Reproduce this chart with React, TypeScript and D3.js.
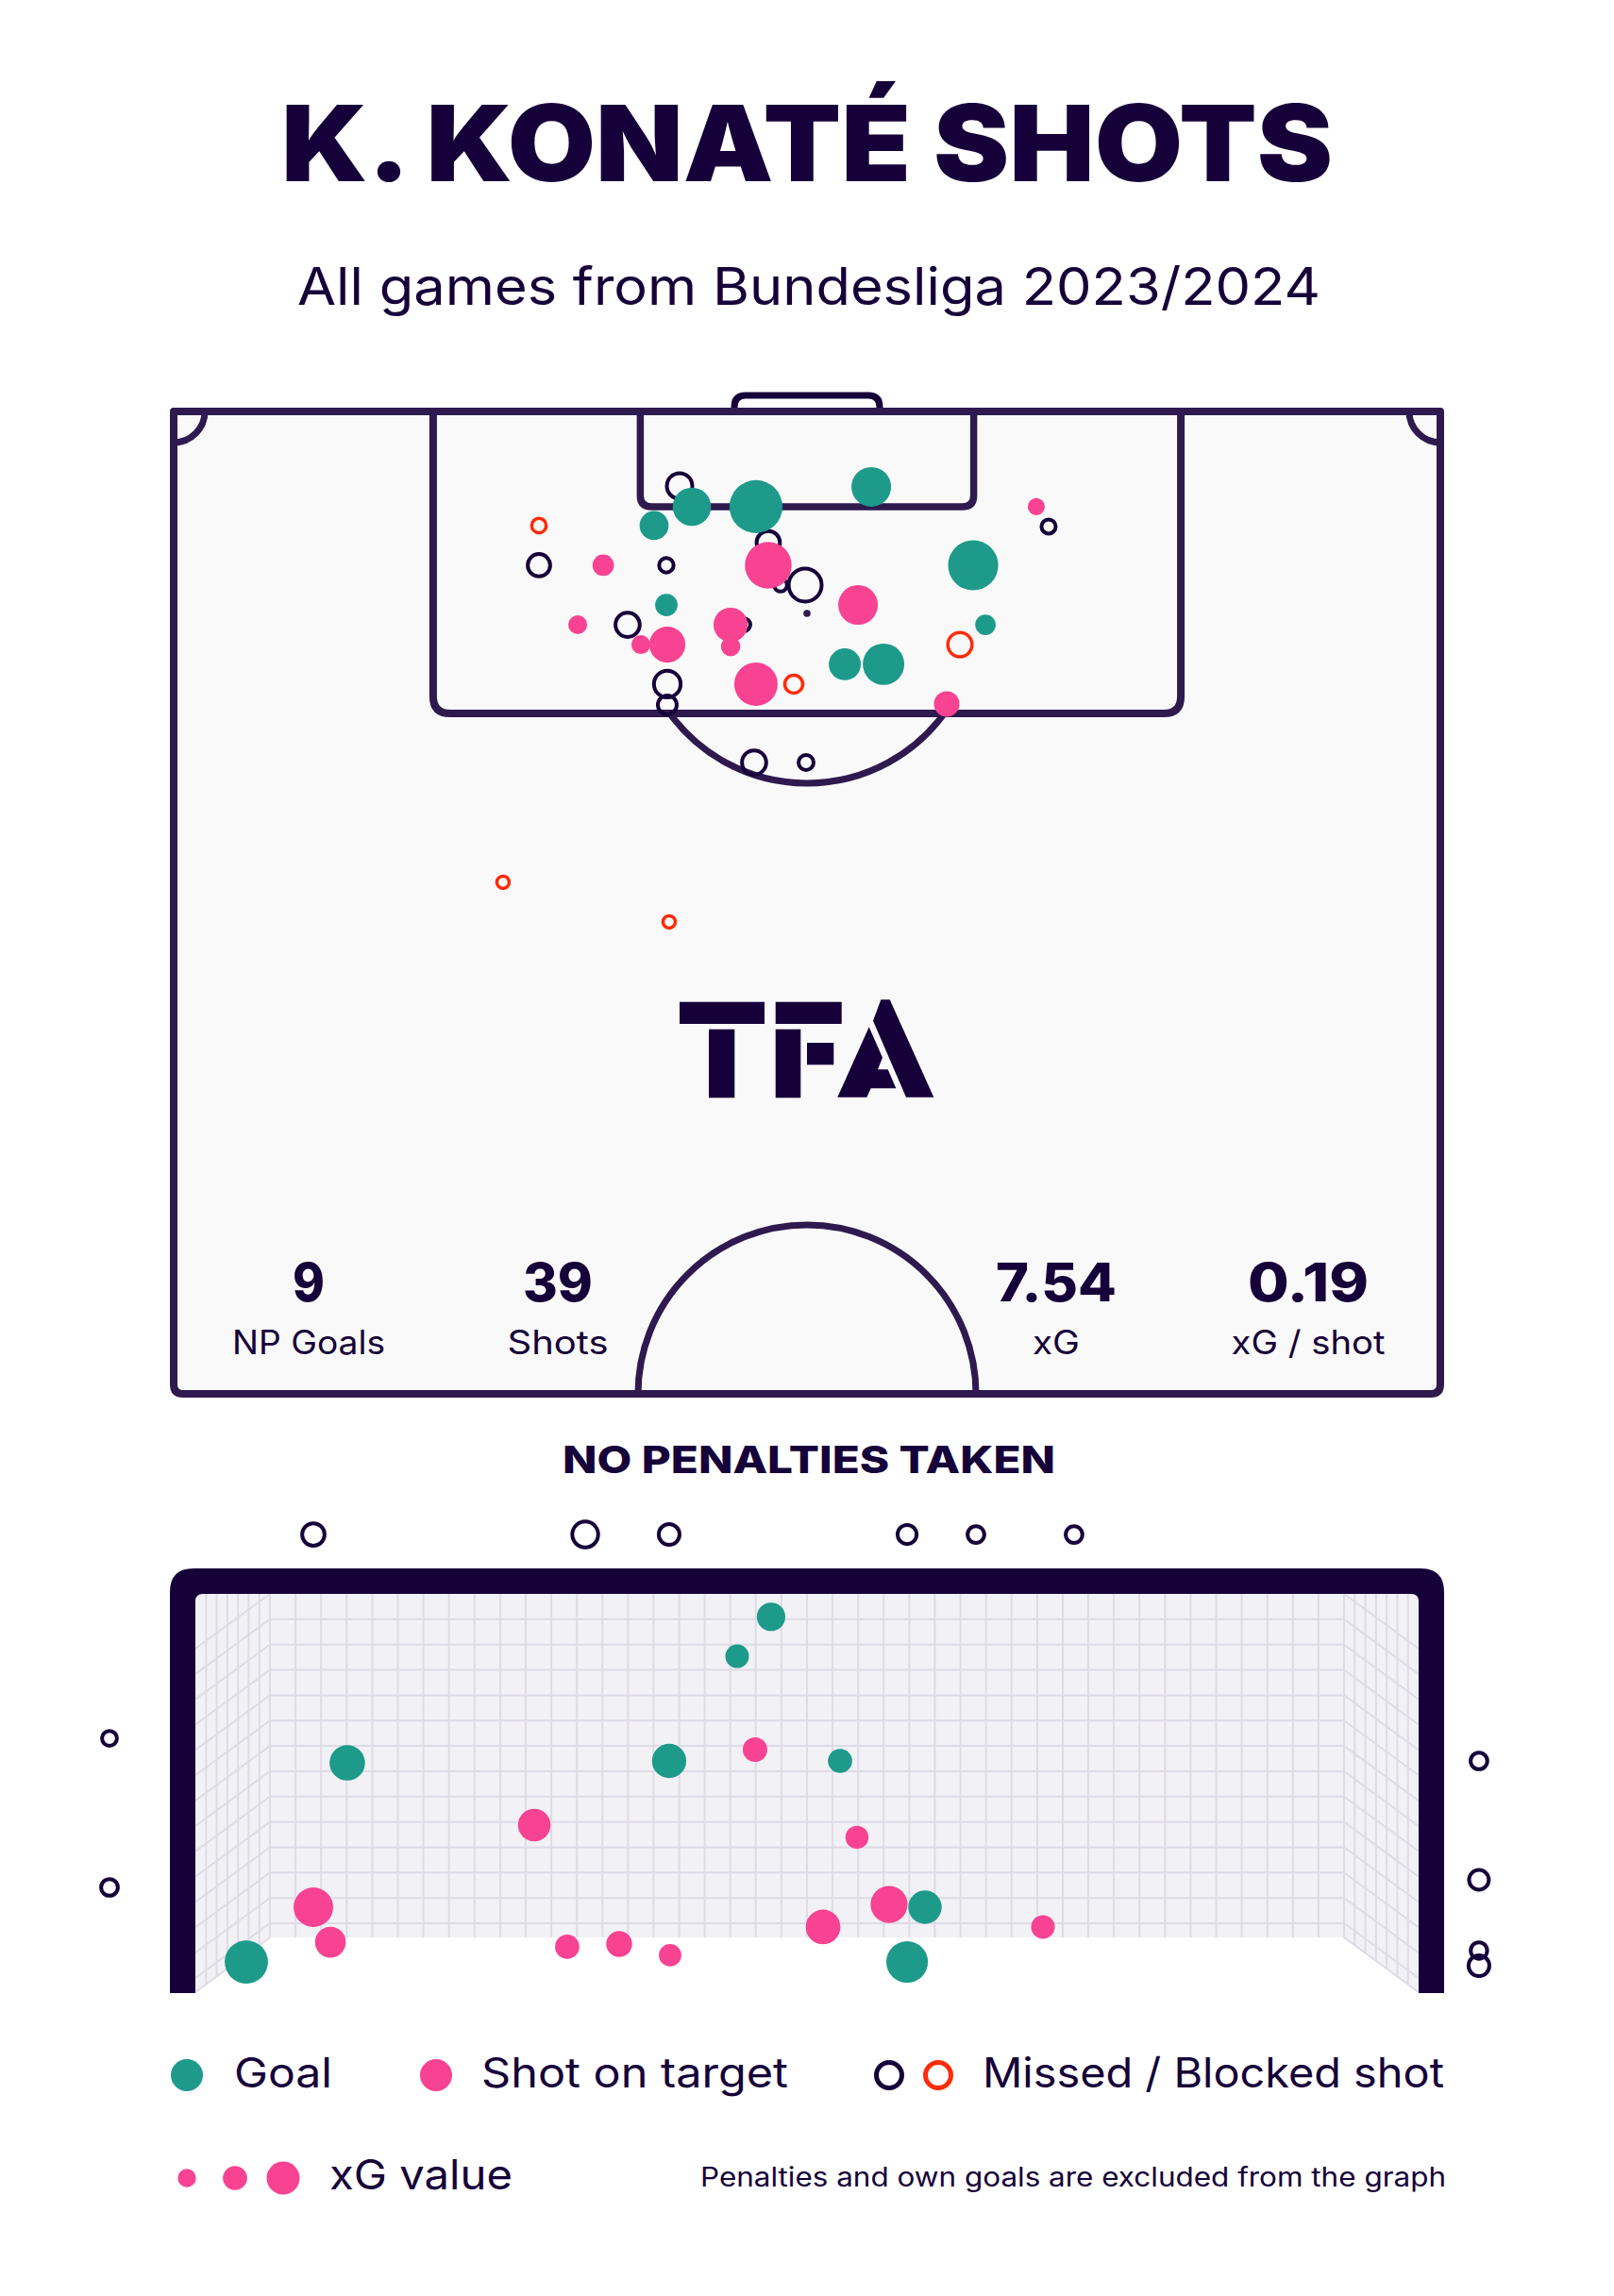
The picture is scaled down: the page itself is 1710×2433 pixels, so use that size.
import React from "react";
import * as d3 from "d3";

// ---------- DATA ----------
const titleText = "K. KONATÉ SHOTS";
const subtitleText = "All games from Bundesliga 2023/2024";
const penaltyText = "NO PENALTIES TAKEN";
const statValues = ["9", "39", "7.54", "0.19"];
const statLabels = ["NP Goals", "Shots", "xG", "xG / shot"];
const legendItems = ["Goal", "Shot on target", "Missed / Blocked shot"];
const xgLegendValues = [0.08, 0.14, 0.26];
const footnote = "Penalties and own goals are excluded from the graph";

// pitch shots: [x across pitch (m), distance from goal line (m), xG, result]
const pitchShots: [number, number, number, string][] = [
  [27.16, 3.98, 0.155, "missed"],
  [31.92, 7.01, 0.13, "missed"],
  [32.58, 9.28, 0.04, "missed"],
  [30.61, 11.4, 0.04, "missed"],
  [19.61, 6.1, 0.05, "blocked"],
  [19.61, 8.22, 0.12, "missed"],
  [23.06, 8.22, 0.11, "saved"],
  [26.45, 8.22, 0.05, "missed"],
  [25.79, 6.1, 0.2, "goal"],
  [27.82, 5.09, 0.35, "goal"],
  [31.26, 5.09, 0.67, "goal"],
  [31.92, 8.22, 0.52, "saved"],
  [33.9, 9.28, 0.26, "missed"],
  [26.45, 10.34, 0.12, "goal"],
  [21.69, 11.4, 0.085, "saved"],
  [24.37, 11.4, 0.14, "missed"],
  [25.08, 12.46, 0.085, "saved"],
  [26.5, 12.46, 0.31, "saved"],
  [29.9, 11.4, 0.28, "saved"],
  [29.9, 12.56, 0.09, "saved"],
  [31.26, 14.57, 0.45, "saved"],
  [26.5, 14.57, 0.17, "missed"],
  [26.5, 15.68, 0.085, "missed"],
  [33.29, 14.57, 0.077, "blocked"],
  [31.16, 18.76, 0.14, "missed"],
  [33.95, 18.76, 0.054, "missed"],
  [37.45, 4.03, 0.375, "goal"],
  [46.31, 5.09, 0.07, "saved"],
  [46.97, 6.15, 0.048, "missed"],
  [42.92, 8.22, 0.6, "goal"],
  [36.74, 10.34, 0.375, "saved"],
  [43.58, 11.4, 0.1, "goal"],
  [42.21, 12.46, 0.14, "blocked"],
  [36.03, 13.51, 0.245, "goal"],
  [38.11, 13.51, 0.41, "goal"],
  [41.5, 15.63, 0.155, "saved"],
  [17.68, 25.16, 0.036, "blocked"],
  [26.6, 27.28, 0.036, "blocked"],
];

// goal-mouth shots: [distance from left post (m), height (m), xG, result]
const goalShots: [number, number, number, string][] = [
  [0.706, 2.803, 0.18, "missed"],
  [2.333, 2.803, 0.24, "missed"],
  [2.835, 2.803, 0.155, "missed"],
  [4.259, 2.803, 0.13, "missed"],
  [4.671, 2.803, 0.1, "missed"],
  [5.258, 2.803, 0.1, "missed"],
  [-0.514, 1.557, 0.08, "missed"],
  [-0.514, 0.646, 0.1, "missed"],
  [7.681, 1.419, 0.1, "missed"],
  [7.681, 0.692, 0.14, "missed"],
  [7.681, 0.26, 0.097, "missed"],
  [7.681, 0.167, 0.155, "missed"],
  [3.445, 2.3, 0.29, "goal"],
  [3.242, 2.059, 0.2, "goal"],
  [0.909, 1.407, 0.45, "goal"],
  [2.835, 1.419, 0.42, "goal"],
  [3.349, 1.488, 0.215, "saved"],
  [3.858, 1.419, 0.21, "goal"],
  [2.028, 1.027, 0.38, "saved"],
  [3.959, 0.952, 0.19, "saved"],
  [0.706, 0.525, 0.56, "saved"],
  [0.808, 0.311, 0.34, "saved"],
  [0.305, 0.19, 0.67, "goal"],
  [2.225, 0.283, 0.21, "saved"],
  [2.536, 0.3, 0.24, "saved"],
  [2.841, 0.231, 0.18, "saved"],
  [3.756, 0.404, 0.43, "saved"],
  [4.151, 0.542, 0.49, "saved"],
  [4.366, 0.525, 0.4, "goal"],
  [5.072, 0.404, 0.2, "saved"],
  [4.259, 0.19, 0.62, "goal"],
];

// ---------- STYLE ----------
const DARK = "#160039";
const LINE = "#2e1a4e";
const TEAL = "#1d9a8a";
const PINK = "#f84292";
const RED = "#ff2b0a";
const PITCH_BG = "#f9f9f9";
const NET_BG = "#f2f1f5";
const NET_LINE = "#dedbe6";
const FONT = "Inter, 'Open Sans', sans-serif";

const W = 1710;
const H = 2433;

// ---------- SCALES ----------
const PITCH_W = 68;
const PITCH_L = 52.5;
const px = d3.scaleLinear().domain([0, PITCH_W]).range([184, 1526]);
const py = d3.scaleLinear().domain([0, PITCH_L]).range([436, 1477]);
const pr = d3.scaleSqrt().domain([0, 1]).range([0, 34.3]);

const GOAL_W = 7.32;
const GOAL_H = 2.44;
const gx = d3.scaleLinear().domain([0, GOAL_W]).range([207, 1503]);
const gy = d3.scaleLinear().domain([0, GOAL_H]).range([2112, 1689]);
const gr = d3.scaleSqrt().domain([0, 1]).range([0, 28]);

function colorFor(result: string) {
  if (result === "goal") return TEAL;
  if (result === "saved") return PINK;
  if (result === "blocked") return RED;
  return DARK;
}

function Marker({ cx, cy, r, result }: { cx: number; cy: number; r: number; result: string }) {
  if (result === "goal" || result === "saved") {
    return <circle cx={cx} cy={cy} r={r} fill={colorFor(result)} />;
  }
  const sw = result === "blocked" ? 3.5 : 4;
  return <circle cx={cx} cy={cy} r={r} fill="none" stroke={colorFor(result)} strokeWidth={sw} />;
}

function Pitch() {
  const cx = px(PITCH_W / 2);
  const top = py(0);
  const left = px(0);
  const right = px(PITCH_W);
  const bottom = py(PITCH_L);
  const rr = 10;
  const outline = `M${left},${top} H${right} V${bottom - rr} Q${right},${bottom} ${right - rr},${bottom} H${left + rr} Q${left},${bottom} ${left},${bottom - rr} Z`;

  const boxL = px(PITCH_W / 2 - 20.07);
  const boxR = px(PITCH_W / 2 + 20.07);
  const boxB = py(16.14);
  const br = 18;
  const box = `M${boxL},${top} V${boxB - br} Q${boxL},${boxB} ${boxL + br},${boxB} H${boxR - br} Q${boxR},${boxB} ${boxR},${boxB - br} V${top}`;

  const sixL = px(PITCH_W / 2 - 8.95);
  const sixR = px(PITCH_W / 2 + 8.95);
  const sixB = py(5.09);
  const sr = 12;
  const six = `M${sixL},${top} V${sixB - sr} Q${sixL},${sixB} ${sixL + sr},${sixB} H${sixR - sr} Q${sixR},${sixB} ${sixR},${sixB - sr} V${top}`;

  const gL = px(PITCH_W / 2 - 3.9);
  const gR = px(PITCH_W / 2 + 3.9);
  const gT = top - 17;
  const gcr = 12;
  const goal = `M${gL},${top} V${gT + gcr} Q${gL},${gT} ${gL + gcr},${gT} H${gR - gcr} Q${gR},${gT} ${gR},${gT + gcr} V${top}`;

  const spotY = py(10.79);
  const arcR = px(PITCH_W / 2 + 9.12) - cx;
  const dy = boxB - spotY;
  const dx = Math.sqrt(arcR * arcR - dy * dy);
  const dArc = `M${cx - dx},${boxB} A${arcR},${arcR} 0 0 0 ${cx + dx},${boxB}`;

  const ccR = px(PITCH_W / 2 + 9.07) - cx;
  const centre = `M${cx - ccR},${bottom} A${ccR},${ccR} 0 0 1 ${cx + ccR},${bottom}`;

  const cornerR = 33;
  const cornerL = `M${left + cornerR},${top} A${cornerR},${cornerR} 0 0 1 ${left},${top + cornerR}`;
  const cornerRt = `M${right - cornerR},${top} A${cornerR},${cornerR} 0 0 0 ${right},${top + cornerR}`;

  const statX = [327, 591, 1119, 1386];
  const numLen = [34, 74, 128, 128];
  const labLen = [162, 107, 50, 163];

  return (
    <g>
      <path d={goal} fill="none" stroke={DARK} strokeWidth={7} />
      <path d={outline} fill={PITCH_BG} stroke={LINE} strokeWidth={8} strokeLinejoin="round" />
      <path d={box} fill="none" stroke={LINE} strokeWidth={8} />
      <path d={six} fill="none" stroke={LINE} strokeWidth={7.5} />
      <path d={dArc} fill="none" stroke={LINE} strokeWidth={7} />
      <path d={centre} fill="none" stroke={LINE} strokeWidth={7} />
      <path d={cornerL} fill="none" stroke={LINE} strokeWidth={7} />
      <path d={cornerRt} fill="none" stroke={LINE} strokeWidth={7} />
      <circle cx={cx} cy={spotY} r={3.8} fill={LINE} />

      {/* logo */}
      <g fill={DARK}>
        <rect x={720} y={1061.7} width={90} height={23.3} />
        <rect x={751} y={1090.7} width={27.3} height={72.6} />
        <rect x={821.7} y={1061.7} width={70} height={23.3} />
        <rect x={821.7} y={1090.7} width={26.6} height={72.6} />
        <rect x={855} y={1105} width={28.3} height={23.3} />
        <polygon points="933.3,1059.3 942.7,1059.3 989.3,1162.7 960,1162.7 925,1081.7" />
        <polygon points="920.7,1088.3 935,1120.7 930,1133.3 940.7,1133.3 949.3,1153.3 922.7,1153.3 918.3,1162.7 887.3,1162.7" />
      </g>

      {statValues.map((v, i) => (
        <g key={v}>
          <text x={statX[i]} y={1379} textAnchor="middle" fontFamily={FONT} fontWeight={800} fontSize={56} fill={DARK} textLength={numLen[i]} lengthAdjust="spacingAndGlyphs">
            {v}
          </text>
          <text x={statX[i]} y={1435} textAnchor="middle" fontFamily={FONT} fontWeight={400} fontSize={35} fill={DARK} textLength={labLen[i]} lengthAdjust="spacingAndGlyphs">
            {statLabels[i]}
          </text>
        </g>
      ))}

      {pitchShots.map((s, i) => (
        <Marker key={i} cx={px(s[0])} cy={py(s[1])} r={pr(s[2])} result={s[3]} />
      ))}
    </g>
  );
}

function GoalView() {
  const backL = 286;
  const backR = W - 286;
  const backT = gy(GOAL_H);
  const backB = 2053;
  const frontL = gx(0);
  const frontR = gx(GOAL_W);
  const ground = gy(0);
  const drop = 58;
  const hStep = 26.85;
  const hLines = d3.range(1, 14).map((k) => backT + k * hStep);
  const vCount = 42;
  const vLines = d3.range(0, vCount + 1).map((k) => backL + (k * (backR - backL)) / vCount);
  const sideCount = 7;
  const sideStep = (backL - frontL) / sideCount;
  const sideLeft = d3.range(1, sideCount).map((k) => frontL + k * sideStep);
  const sideRight = sideLeft.map((x) => W - x);
  const diagYs = [backT, ...hLines, backB];
  const botAt = (x: number, side: "l" | "r") =>
    side === "l" ? backB + ((backL - x) * (ground - backB)) / (backL - frontL) : backB + ((x - backR) * (ground - backB)) / (frontR - backR);

  const oL = 180, oR = W - 180, oT = 1662, cr = 25, icr = 8;
  const frame = `M${oL},${ground} V${oT + cr} Q${oL},${oT} ${oL + cr},${oT} H${oR - cr} Q${oR},${oT} ${oR},${oT + cr} V${ground} H${frontR} V${backT + icr} Q${frontR},${backT} ${frontR - icr},${backT} H${frontL + icr} Q${frontL},${backT} ${frontL},${backT + icr} V${ground} Z`;

  return (
    <g>
      <rect x={backL} y={backT} width={backR - backL} height={backB - backT} fill={NET_BG} />
      <polygon points={`${frontL},${backT} ${backL},${backT} ${backL},${backB} ${frontL},${ground}`} fill={NET_BG} />
      <polygon points={`${frontR},${backT} ${backR},${backT} ${backR},${backB} ${frontR},${ground}`} fill={NET_BG} />
      <g stroke={NET_LINE} strokeWidth={2}>
        {vLines.map((x, i) => (
          <line key={"v" + i} x1={x} x2={x} y1={backT} y2={backB} />
        ))}
        {hLines.map((y, i) => (
          <line key={"h" + i} x1={backL} x2={backR} y1={y} y2={y} />
        ))}
        {sideLeft.map((x, i) => (
          <line key={"sl" + i} x1={x} x2={x} y1={backT} y2={botAt(x, "l")} />
        ))}
        {sideRight.map((x, i) => (
          <line key={"sr" + i} x1={x} x2={x} y1={backT} y2={botAt(x, "r")} />
        ))}
        {diagYs.map((y, i) => (
          <line key={"dl" + i} x1={backL} y1={y} x2={frontL} y2={Math.min(y + drop, ground)} />
        ))}
        {diagYs.map((y, i) => (
          <line key={"dr" + i} x1={backR} y1={y} x2={frontR} y2={Math.min(y + drop, ground)} />
        ))}
      </g>
      <path d={frame} fill={DARK} />
      {goalShots.map((s, i) => (
        <Marker key={i} cx={gx(s[0])} cy={gy(s[1])} r={gr(s[2])} result={s[3]} />
      ))}
    </g>
  );
}

function Legend() {
  const y1 = 2199;
  const y2 = 2308;
  const xgX = [198, 249, 300];
  return (
    <g fontFamily={FONT} fill={DARK}>
      <circle cx={198} cy={y1} r={17} fill={TEAL} />
      <text x={248} y={2212} fontSize={44} textLength={104} lengthAdjust="spacingAndGlyphs">{legendItems[0]}</text>
      <circle cx={462} cy={y1} r={17} fill={PINK} />
      <text x={510} y={2212} fontSize={44} textLength={325} lengthAdjust="spacingAndGlyphs">{legendItems[1]}</text>
      <circle cx={942} cy={y1} r={13.5} fill="none" stroke={DARK} strokeWidth={5} />
      <circle cx={994} cy={y1} r={13.5} fill="none" stroke={RED} strokeWidth={5} />
      <text x={1041} y={2212} fontSize={44} textLength={489} lengthAdjust="spacingAndGlyphs">{legendItems[2]}</text>
      {xgLegendValues.map((v, i) => (
        <circle key={i} cx={xgX[i]} cy={y2} r={pr(v)} fill={PINK} />
      ))}
      <text x={349} y={2320} fontSize={44} textLength={194} lengthAdjust="spacingAndGlyphs">xG value</text>
      <text x={742} y={2317} fontSize={28} textLength={790} lengthAdjust="spacingAndGlyphs">{footnote}</text>
    </g>
  );
}

export default function App() {
  return (
    <svg
      width={W}
      height={H}
      viewBox={`0 0 ${W} ${H}`}
      style={{ position: "absolute", left: 0, top: 0, background: "#ffffff" }}
    >
      <rect width={W} height={H} fill="#ffffff" />
      <text x={855} y={192} textAnchor="middle" fontFamily={FONT} fontWeight={900} fontSize={112} fill={DARK} textLength={1114} lengthAdjust="spacingAndGlyphs">
        {titleText}
      </text>
      <text x={857} y={323} textAnchor="middle" fontFamily={FONT} fontWeight={400} fontSize={55} fill={DARK} textLength={1084} lengthAdjust="spacingAndGlyphs">
        {subtitleText}
      </text>
      <Pitch />
      <text x={857} y={1561} textAnchor="middle" fontFamily={FONT} fontWeight={800} fontSize={40} fill={DARK} textLength={522} lengthAdjust="spacingAndGlyphs">
        {penaltyText}
      </text>
      <GoalView />
      <Legend />
    </svg>
  );
}
